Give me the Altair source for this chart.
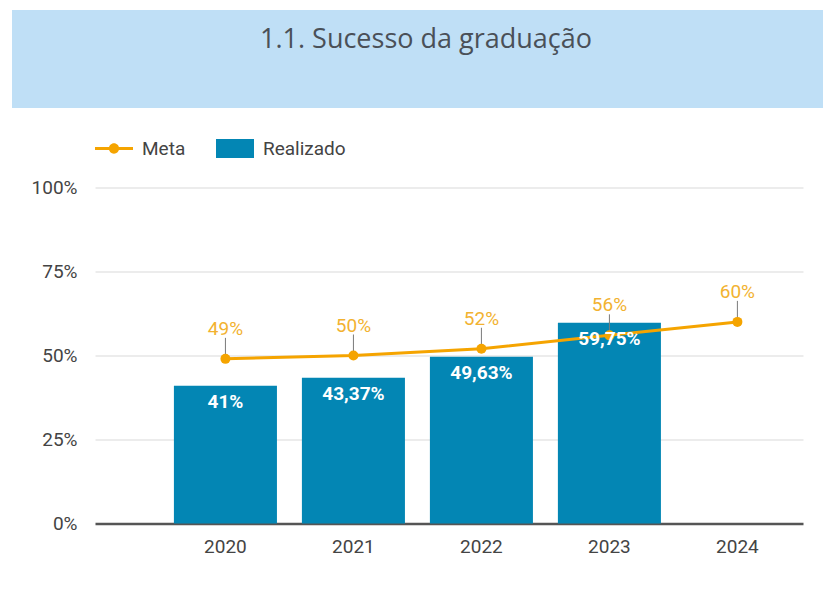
import altair as alt
import pandas as pd

titulo = "1.1. Sucesso da graduação"
anos = ["2020", "2021", "2022", "2023", "2024"]
meta = [49, 50, 52, 56, 60]
realizado = [41, 43.37, 49.63, 59.75]
series = ["Meta", "Realizado"]
ticks_y = [0, 25, 50, 75, 100]

COR_META = "#f5a400"
COR_REAL = "#0386b4"
COR_ROT_META = "#f2b230"
COR_TEXTO = "#444444"
FONTE = "Roboto"

PATH_META = ("M-1,-0.08L-0.2,-0.08L-0.2,0.08L-1,0.08Z "
             "M0.2,-0.08L1,-0.08L1,0.08L0.2,0.08Z "
             "M-0.27,0A0.27,0.27 0 1,1 0.27,0A0.27,0.27 0 1,1 -0.27,0Z")
PATH_REAL = "M-1,-0.5L1,-0.5L1,0.5L-1,0.5Z"


def fmt(v):
    return f"{v:g}".replace(".", ",") + "%"


df_meta = pd.DataFrame({"ano": anos, "meta": meta, "serie": "Meta",
                        "rotulo": [fmt(v) for v in meta]})
df_real = pd.DataFrame({"ano": anos[:len(realizado)], "realizado": realizado,
                        "serie": "Realizado",
                        "rotulo": [fmt(v) for v in realizado]})
df_titulo = pd.DataFrame({"titulo": [titulo]})

LARG = 791      # card width (plot + label gutter)
CALHA = 83      # gutter holding the y labels
GRADE = LARG - CALHA

x_enc = alt.X(
    "ano:N", sort=anos,
    scale=alt.Scale(domain=anos, paddingInner=0.195, paddingOuter=0.6875, align=0.92),
    axis=alt.Axis(title=None, labelAngle=0, ticks=False, domain=False, grid=False,
                  labelFont=FONTE, labelFontSize=19, labelColor=COR_TEXTO,
                  labelPadding=14),
)
y_scale = alt.Scale(domain=[0, 100], nice=False)
# y axis drawn from the gutter edge: its ticks are the grid lines, the 0 tick the baseline
y_axis = alt.Axis(
    title=None, orient="right", values=ticks_y, labelExpr="datum.value + '%'",
    domain=False, grid=False, offset=-GRADE, tickSize=GRADE,
    tickColor={"condition": {"test": "datum.value === 0", "value": "#555555"},
               "value": "#d9d9d9"},
    tickWidth={"condition": {"test": "datum.value === 0", "value": 2.5}, "value": 1},
    labelAlign="right", labelPadding=-(GRADE + 18), labelFont=FONTE,
    labelFontSize=19, labelColor=COR_TEXTO)


def y_of(campo):
    return alt.Y(f"{campo}:Q", scale=y_scale, axis=y_axis, title=None)


barras = alt.Chart(df_real).mark_bar(color=COR_REAL).encode(
    x=x_enc, y=y_of("realizado"))

linha = alt.Chart(df_meta).mark_line(color=COR_META, strokeWidth=3).encode(
    x=x_enc, y=y_of("meta"))

hastes = alt.Chart(df_meta).mark_rule(color="#7a7a7a", strokeWidth=1, y2Offset=-21).encode(
    x=x_enc, y=y_of("meta"), y2=alt.Y2("meta"))

pontos = alt.Chart(df_meta).mark_point(filled=True, size=100, opacity=1, color=COR_META).encode(
    x=x_enc, y=y_of("meta"))

legenda = alt.Legend(
    title=None, orient="none", legendX=CALHA, legendY=-58, padding=0,
    direction="horizontal",
    labelFont=FONTE, labelFontSize=19, labelColor=COR_TEXTO, labelOffset=9,
    symbolSize=1444, symbolStrokeWidth=0, symbolOpacity=1, columnPadding=30)

# invisible marks that only carry the legend (Meta = line + dot, Realizado = box)
chave = alt.Chart(df_meta).mark_point(filled=True, opacity=0).encode(
    x=x_enc, y=y_of("meta"),
    color=alt.Color("serie:N", scale=alt.Scale(domain=series, range=[COR_META, COR_REAL]),
                    legend=legenda),
    shape=alt.Shape("serie:N", scale=alt.Scale(domain=series, range=[PATH_META, PATH_REAL]),
                    legend=legenda))

rot_real = alt.Chart(df_real).mark_text(
    color="white", font=FONTE, fontSize=19, fontWeight="bold", dy=16,
    baseline="middle").encode(
    x=x_enc, y=y_of("realizado"), text="rotulo:N")

rot_meta = alt.Chart(df_meta).mark_text(
    color=COR_ROT_META, font=FONTE, fontSize=19, dy=-30, baseline="middle").encode(
    x=x_enc, y=y_of("meta"), text="rotulo:N")

principal = alt.layer(barras, linha, hastes, pontos, chave, rot_real, rot_meta).properties(
    width=LARG, height=336)

faixa = alt.Chart(df_titulo).mark_text(
    font="Open Sans", fontSize=27, color="#4a5058", align="center",
    baseline="alphabetic").encode(
    x=alt.value(414), y=alt.value(38), text="titulo:N").properties(
    width=811, height=98, view=alt.ViewBackground(fill="#bfdff6", stroke=None))

chart = alt.vconcat(faixa, principal, spacing=21.5).resolve_scale(
    color="independent", shape="independent").resolve_legend(
    color="independent", shape="independent").properties(
    padding={"left": 4, "top": 2, "right": 0, "bottom": 0}).configure_view(stroke=None)

chart.save("out.html", embed_options={"renderer": "svg", "actions": False})
